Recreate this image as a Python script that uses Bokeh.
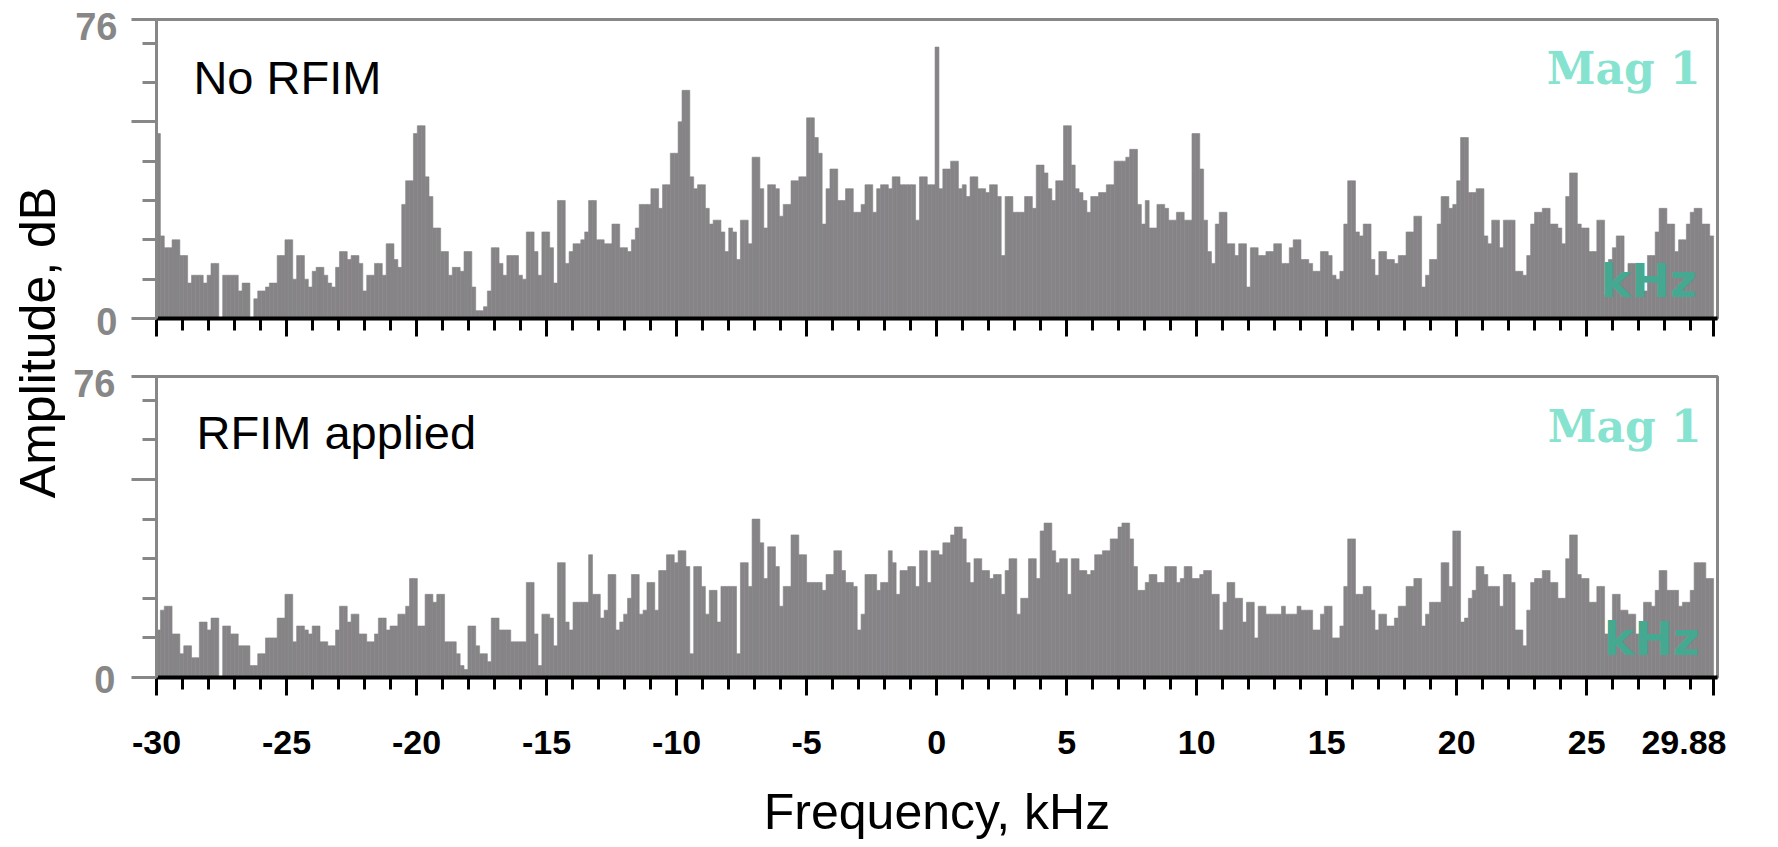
import math
from bokeh.plotting import figure
from bokeh.models import Range1d, FixedTicker, Label
from bokeh.layouts import row, column
from bokeh.embed import file_html
from bokeh.resources import INLINE
from bokeh.core.properties import value

# ---------------- data ----------------
freq_start = -30.0
freq_end = 29.88
n_bins = 400
bin_width = (freq_end - freq_start) / n_bins
freq_khz = [freq_start + bin_width * (i + 0.5) for i in range(n_bins)]

amp_no_rfim = [
    47, 21, 18, 18, 20, 20, 16, 16, 9, 11, 11, 11, 9, 11, 14, 14, 0, 11, 11, 11,
    11, 7, 9, 9, 0, 5, 7, 7, 8, 9, 9, 16, 16, 20, 20, 10, 16, 16, 10, 8,
    12, 13, 13, 11, 9, 8, 13, 17, 17, 15, 16, 16, 14, 7, 11, 11, 14, 14, 11, 19,
    19, 15, 13, 29, 35, 35, 47, 49, 49, 36, 31, 23, 23, 17, 17, 11, 13, 13, 12, 17,
    17, 8, 2, 2, 3, 7, 18, 18, 14, 11, 16, 16, 16, 11, 10, 22, 22, 17, 11, 22,
    22, 18, 9, 30, 30, 14, 17, 19, 19, 20, 22, 30, 30, 20, 20, 19, 19, 24, 24, 18,
    18, 17, 20, 23, 29, 29, 29, 33, 33, 28, 34, 34, 42, 42, 50, 58, 58, 36, 33, 34,
    34, 28, 24, 25, 25, 22, 17, 23, 22, 15, 25, 25, 19, 41, 41, 33, 23, 34, 34, 33,
    26, 29, 29, 35, 35, 36, 36, 51, 51, 46, 42, 24, 33, 38, 38, 30, 30, 33, 33, 27,
    27, 29, 34, 34, 27, 33, 34, 34, 33, 36, 36, 34, 34, 34, 34, 25, 36, 36, 34, 34,
    69, 33, 38, 38, 40, 40, 33, 34, 31, 36, 36, 33, 33, 32, 34, 34, 31, 16, 31, 31,
    27, 27, 27, 31, 31, 28, 39, 39, 37, 33, 30, 35, 35, 49, 49, 39, 33, 32, 30, 27,
    31, 31, 32, 32, 34, 34, 40, 40, 40, 41, 43, 43, 29, 24, 30, 23, 23, 29, 29, 28,
    25, 25, 27, 27, 25, 25, 47, 47, 38, 25, 17, 14, 24, 27, 27, 19, 19, 16, 19, 19,
    8, 18, 18, 16, 16, 17, 17, 19, 19, 14, 14, 18, 20, 20, 15, 15, 14, 12, 12, 17,
    17, 16, 11, 10, 12, 24, 35, 35, 22, 21, 24, 24, 15, 11, 17, 17, 15, 15, 14, 16,
    16, 22, 22, 26, 26, 8, 11, 15, 15, 24, 31, 31, 28, 29, 35, 46, 46, 32, 32, 33,
    33, 21, 19, 25, 25, 18, 25, 25, 25, 12, 12, 11, 16, 24, 27, 27, 28, 28, 24, 24,
    23, 19, 31, 37, 37, 24, 23, 23, 17, 17, 25, 25, 6, 15, 18, 21, 21, 11, 14, 14,
    14, 7, 7, 16, 16, 22, 28, 28, 24, 24, 17, 20, 20, 24, 27, 28, 28, 24, 24, 21,
]

amp_rfim = [
    12, 17, 18, 18, 11, 11, 6, 8, 8, 5, 5, 14, 14, 12, 15, 15, 0, 13, 13, 11,
    11, 8, 8, 8, 3, 3, 6, 6, 10, 10, 10, 15, 15, 21, 21, 9, 13, 13, 12, 11,
    13, 13, 9, 9, 8, 8, 12, 18, 18, 14, 16, 16, 11, 11, 9, 9, 11, 15, 15, 12,
    13, 13, 16, 16, 18, 25, 25, 13, 13, 21, 21, 19, 21, 21, 9, 9, 9, 6, 3, 2,
    13, 13, 8, 6, 6, 4, 15, 15, 12, 12, 12, 9, 9, 9, 9, 24, 24, 11, 3, 16,
    16, 15, 8, 29, 29, 14, 12, 19, 19, 19, 19, 31, 21, 21, 15, 17, 26, 26, 12, 14,
    16, 20, 26, 26, 16, 17, 24, 24, 17, 27, 27, 31, 31, 29, 32, 32, 28, 6, 28, 28,
    23, 16, 22, 22, 14, 23, 23, 23, 23, 6, 29, 29, 23, 40, 40, 34, 25, 33, 33, 28,
    18, 23, 23, 36, 36, 31, 31, 24, 24, 24, 24, 22, 26, 26, 32, 32, 27, 24, 24, 23,
    12, 16, 26, 26, 26, 22, 24, 24, 32, 29, 21, 27, 27, 28, 28, 23, 32, 32, 24, 32,
    32, 31, 34, 34, 36, 38, 38, 35, 29, 24, 30, 30, 27, 27, 25, 26, 26, 21, 27, 30,
    30, 16, 20, 20, 30, 30, 25, 37, 39, 39, 32, 29, 30, 30, 21, 30, 30, 27, 27, 26,
    27, 31, 31, 32, 32, 35, 35, 38, 39, 39, 35, 28, 22, 22, 24, 26, 26, 24, 24, 28,
    28, 28, 24, 25, 28, 28, 25, 25, 26, 27, 27, 21, 21, 12, 19, 24, 24, 20, 20, 14,
    19, 19, 10, 18, 18, 16, 16, 16, 16, 18, 16, 16, 16, 18, 17, 17, 17, 12, 12, 16,
    18, 18, 10, 10, 13, 23, 35, 35, 21, 21, 23, 23, 17, 12, 16, 16, 13, 13, 15, 18,
    18, 23, 23, 25, 25, 13, 16, 19, 19, 19, 29, 29, 23, 37, 37, 14, 15, 20, 22, 28,
    28, 26, 23, 23, 23, 18, 26, 26, 24, 12, 12, 8, 17, 24, 25, 25, 27, 27, 24, 24,
    20, 20, 30, 36, 36, 26, 25, 25, 19, 19, 23, 23, 11, 13, 21, 21, 17, 17, 16, 16,
    11, 11, 19, 19, 18, 22, 27, 27, 22, 22, 22, 18, 19, 19, 22, 29, 29, 29, 25, 25,
]

x_major_ticks = [-30, -25, -20, -15, -10, -5, 0, 5, 10, 15, 20, 25, 29.88]
x_major_labels = ["-30", "-25", "-20", "-15", "-10", "-5", "0", "5", "10", "15", "20", "25", "29.88"]
x_minor_ticks = [v for v in range(-29, 30) if v % 5 != 0]
y_major_ticks = [0, 50, 76]
y_minor_ticks = [10, 20, 30, 40, 60, 70]
y_end_labels = ["76", "0"]          # top and bottom of each amplitude axis

panel_titles = ["No RFIM", "RFIM applied"]
mag_text = "Mag 1"
unit_text = "kHz"
x_title = "Frequency, kHz"
y_title = "Amplitude, dB"

# ---------------- style / layout ----------------
BAR = "#868487"
GRAY = "#878787"
TICK_FONT = "Liberation Sans"
LABEL_FONT = "Liberation Sans"
FRAME_W = 1561
SIDE_W = 122          # left strip carrying the y title and the end-tick labels
TOTAL_H = 842


def make_panel(values, title, bottom, frame_h, border_left, border_top, border_bottom,
               title_y, mag_y, khz_y, title_x, mag_x, khz_x):
    p = figure(
        frame_width=FRAME_W, frame_height=frame_h,
        x_range=Range1d(-30, 30.03), y_range=Range1d(0, 76),
        output_backend="svg", toolbar_location=None,
        min_border_left=border_left, min_border_right=12,
        min_border_top=border_top, min_border_bottom=border_bottom,
        background_fill_color="white", border_fill_color="white",
        outline_line_color=GRAY, outline_line_width=3,
    )
    p.grid.visible = False
    p.vbar(x=freq_khz, width=bin_width, top=values, bottom=0,
           fill_color=BAR, line_color=BAR, line_width=0.6)

    xa = p.xaxis[0]
    xa.ticker = FixedTicker(ticks=x_major_ticks, minor_ticks=x_minor_ticks)
    xa.axis_line_color = "black"
    xa.axis_line_width = 4
    xa.major_tick_line_color = "black"
    xa.major_tick_line_width = 3
    xa.minor_tick_line_color = "black"
    xa.minor_tick_line_width = 3
    xa.major_tick_in = 0
    xa.major_tick_out = 18
    xa.minor_tick_in = 0
    xa.minor_tick_out = 12
    if bottom:
        xa.major_label_overrides = dict(zip(x_major_ticks, x_major_labels))
        xa.major_label_text_font = TICK_FONT
        xa.major_label_text_font_style = "bold"
        xa.major_label_text_font_size = "34px"
        xa.major_label_text_color = "black"
        xa.major_label_standoff = 35
        xa.axis_label = x_title
        xa.axis_label_text_font = LABEL_FONT
        xa.axis_label_text_font_style = "normal"
        xa.axis_label_text_font_size = "50px"
        xa.axis_label_text_color = "black"
        xa.axis_label_standoff = 27
    else:
        xa.major_label_overrides = {t: "" for t in x_major_ticks}
        xa.major_label_standoff = 0

    ya = p.yaxis[0]
    ya.ticker = FixedTicker(ticks=y_major_ticks, minor_ticks=y_minor_ticks)
    ya.major_label_overrides = {t: "" for t in y_major_ticks}
    ya.major_label_standoff = 0
    ya.axis_line_color = GRAY
    ya.axis_line_width = 3
    ya.major_tick_line_color = GRAY
    ya.major_tick_line_width = 3
    ya.minor_tick_line_color = GRAY
    ya.minor_tick_line_width = 3
    ya.major_tick_in = 0
    ya.major_tick_out = 25
    ya.minor_tick_in = 0
    ya.minor_tick_out = 14

    p.add_layout(Label(x=title_x, y=title_y, text=title, text_font=LABEL_FONT,
                       text_font_size="47px", text_color="black",
                       text_align="left", text_baseline="alphabetic"))
    p.add_layout(Label(x=mag_x, y=mag_y, text=mag_text, text_font="DejaVu Serif",
                       text_font_style="bold", text_font_size="44px",
                       text_color="#86E3CF", text_align="right",
                       text_baseline="alphabetic"))
    p.add_layout(Label(x=khz_x, y=khz_y, text=unit_text, text_font="DejaVu Sans",
                       text_font_style="bold", text_font_size="46px",
                       text_color="#45A890", text_align="right",
                       text_baseline="alphabetic"))
    return p


top = make_panel(amp_no_rfim, panel_titles[0], False, 299, 156 - SIDE_W, 19, 38,
                 61.2, 63.6, 9.6, -28.58, 29.38, 29.23)
bot = make_panel(amp_rfim, panel_titles[1], True, 301, 153 - SIDE_W, 20, 165,
                 61.8, 63.4, 9.7, -28.46, 29.42, 29.35)

# left strip: y title + end-of-axis tick labels (pixel coordinates, y measured upward)
side = figure(width=SIDE_W, height=TOTAL_H, x_range=Range1d(0, SIDE_W), y_range=Range1d(0, TOTAL_H),
              output_backend="svg", toolbar_location=None, min_border=0,
              x_axis_location=None, y_axis_location=None, outline_line_color=None,
              background_fill_color="white", border_fill_color="white")
side.grid.visible = False
side.text(x=[37], y=[TOTAL_H - 342], text=[y_title], angle=math.pi / 2,
          text_align="center", text_baseline="middle",
          text_font=value(LABEL_FONT), text_font_size="50px", text_color="black")
side.text(x=[117, 117, 115, 115], y=[TOTAL_H - 26, TOTAL_H - 321, TOTAL_H - 383, TOTAL_H - 679],
          text=[y_end_labels[0], y_end_labels[1], y_end_labels[0], y_end_labels[1]],
          text_align="right", text_baseline="middle", text_font=value(TICK_FONT),
          text_font_style="bold", text_font_size="38px", text_color=GRAY)

layout = row(side, column(top, bot, spacing=0), spacing=0)
open("out.html", "w").write(file_html(layout, INLINE))
